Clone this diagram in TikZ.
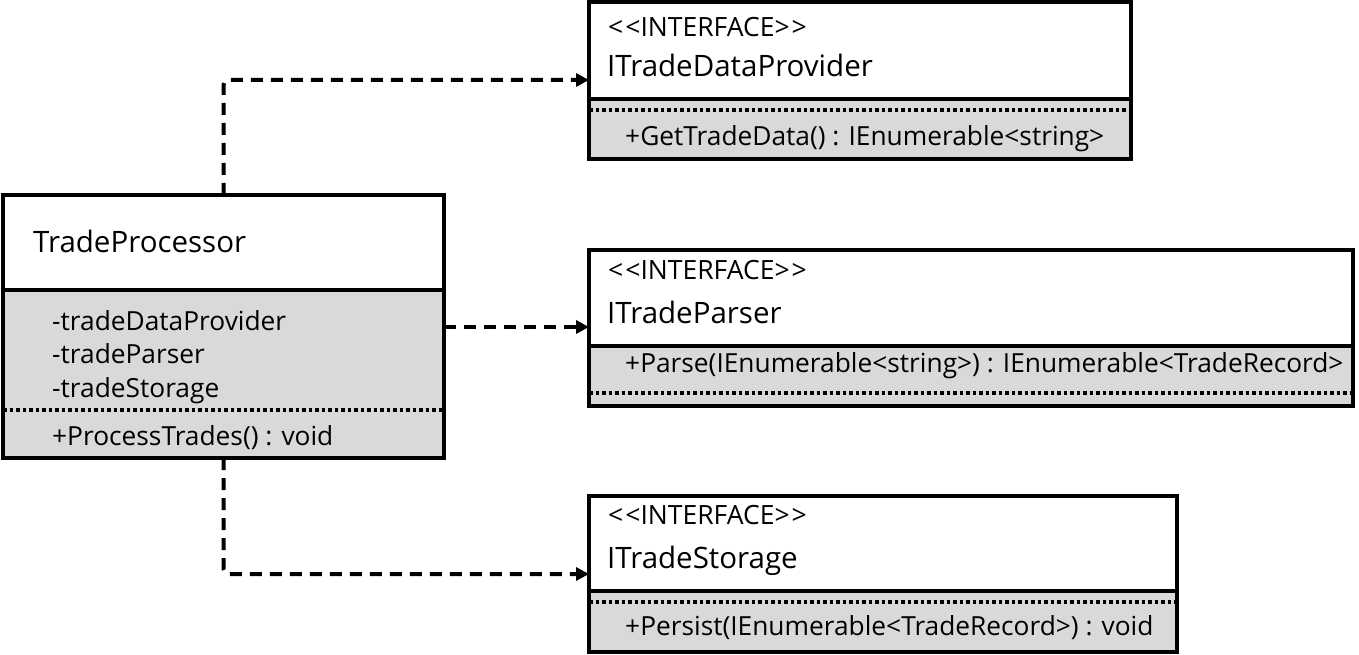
\documentclass[tikz,border=0pt]{standalone}
\usepackage{fontspec}
\setmainfont{Open Sans}
\usetikzlibrary{arrows.meta, positioning, calc}

\begin{document}
\begin{tikzpicture}[x=1pt, y=-1pt,
    classbox/.style={rectangle, inner sep=0pt, outer sep=0pt, fill=white, anchor=north west},
    frame/.style={line width=4pt},
    opsline/.style={line width=3.5pt, dash pattern=on 3.5pt off 3pt},
    dep/.style={-{Triangle[length=13pt, width=13pt]}, line width=4pt,
                dash pattern=on 12pt off 8pt, rounded corners=5pt},
    title/.style={anchor=base west, inner sep=0pt, font=\fontsize{29.5}{34}\selectfont},
    stereo/.style={anchor=base west, inner sep=0pt, font=\fontsize{26.5}{31}\selectfont},
    member/.style={anchor=base west, inner sep=0pt, font=\fontsize{26.3}{31}\selectfont}]
    \useasboundingbox (0,0) rectangle (1359,655);
    \definecolor{umlgrey}{RGB}{217,217,217}

    % 1. Lop TradeProcessor
    \node[classbox, minimum width=441pt, minimum height=263pt] (proc) at (3,195) {};
    \fill[umlgrey] ([yshift=-95pt]proc.north west) rectangle (proc.south east);
    \draw[opsline] ([yshift=-215pt]proc.north west) -- ([yshift=-215pt]proc.north east);
    \draw[frame] ([yshift=-95pt]proc.north west) -- ([yshift=-95pt]proc.north east);
    \draw[frame] (proc.north west) rectangle (proc.south east);
    \node[title] (procname) at (33,252) {TradeProcessor};
    \node[member] (attr1) at (52,330) {-tradeDataProvider};
    \node[member] (attr2) at (52,363) {-tradeParser};
    \node[member] (attr3) at (52,397) {-tradeStorage};
    \node[member] (procop) at (52,445) {+ProcessTrades() : void};

    % 2. Giao dien ITradeDataProvider
    \node[classbox, minimum width=542pt, minimum height=157pt] (provider) at (589,2) {};
    \fill[umlgrey] ([yshift=-97pt]provider.north west) rectangle (provider.south east);
    \draw[opsline] ([yshift=-108pt]provider.north west) -- ([yshift=-108pt]provider.north east);
    \draw[frame] ([yshift=-97pt]provider.north west) -- ([yshift=-97pt]provider.north east);
    \draw[frame] (provider.north west) rectangle (provider.south east);
    \node[stereo] (providerst) at (608,37) {{<}\kern2pt{<}INTERFACE{>}\kern2pt{>}};
    \node[title] (providername) at (607,77) {ITradeDataProvider};
    \node[member] (providerop) at (625,146) {+GetTradeData() : IEnumerable{<}string{>}};

    % 3. Giao dien ITradeParser
    \node[classbox, minimum width=764pt, minimum height=156pt] (parser) at (589,250) {};
    \fill[umlgrey] ([yshift=-96pt]parser.north west) rectangle (parser.south east);
    \draw[opsline] ([yshift=-143pt]parser.north west) -- ([yshift=-143pt]parser.north east);
    \draw[frame] ([yshift=-96pt]parser.north west) -- ([yshift=-96pt]parser.north east);
    \draw[frame] (parser.north west) rectangle (parser.south east);
    \node[stereo] (parserst) at (608,279) {{<}\kern2pt{<}INTERFACE{>}\kern2pt{>}};
    \node[title] (parsername) at (607,323) {ITradeParser};
    \node[member] (parserop) at (625,372) {+Parse(IEnumerable{<}string{>}) : IEnumerable{<}TradeRecord{>}};

    % 4. Giao dien ITradeStorage
    \node[classbox, minimum width=588pt, minimum height=156pt] (storage) at (589,496) {};
    \fill[umlgrey] ([yshift=-95pt]storage.north west) rectangle (storage.south east);
    \draw[opsline] ([yshift=-106pt]storage.north west) -- ([yshift=-106pt]storage.north east);
    \draw[frame] ([yshift=-95pt]storage.north west) -- ([yshift=-95pt]storage.north east);
    \draw[frame] (storage.north west) rectangle (storage.south east);
    \node[stereo] (storagest) at (608,524) {{<}\kern2pt{<}INTERFACE{>}\kern2pt{>}};
    \node[title] (storagename) at (607,568) {ITradeStorage};
    \node[member] (storageop) at (625,635) {+Persist(IEnumerable{<}TradeRecord{>}) : void};

    % 5. Cac mui ten phu thuoc
    \draw[dep] (proc.north) |- ([yshift=-78pt]provider.north west);
    \draw[dep] ([yshift=-132pt]proc.north east) -- ([yshift=-77pt]parser.north west);
    \draw[dep] (proc.south) |- ([yshift=-78pt]storage.north west);
\end{tikzpicture}
\end{document}
